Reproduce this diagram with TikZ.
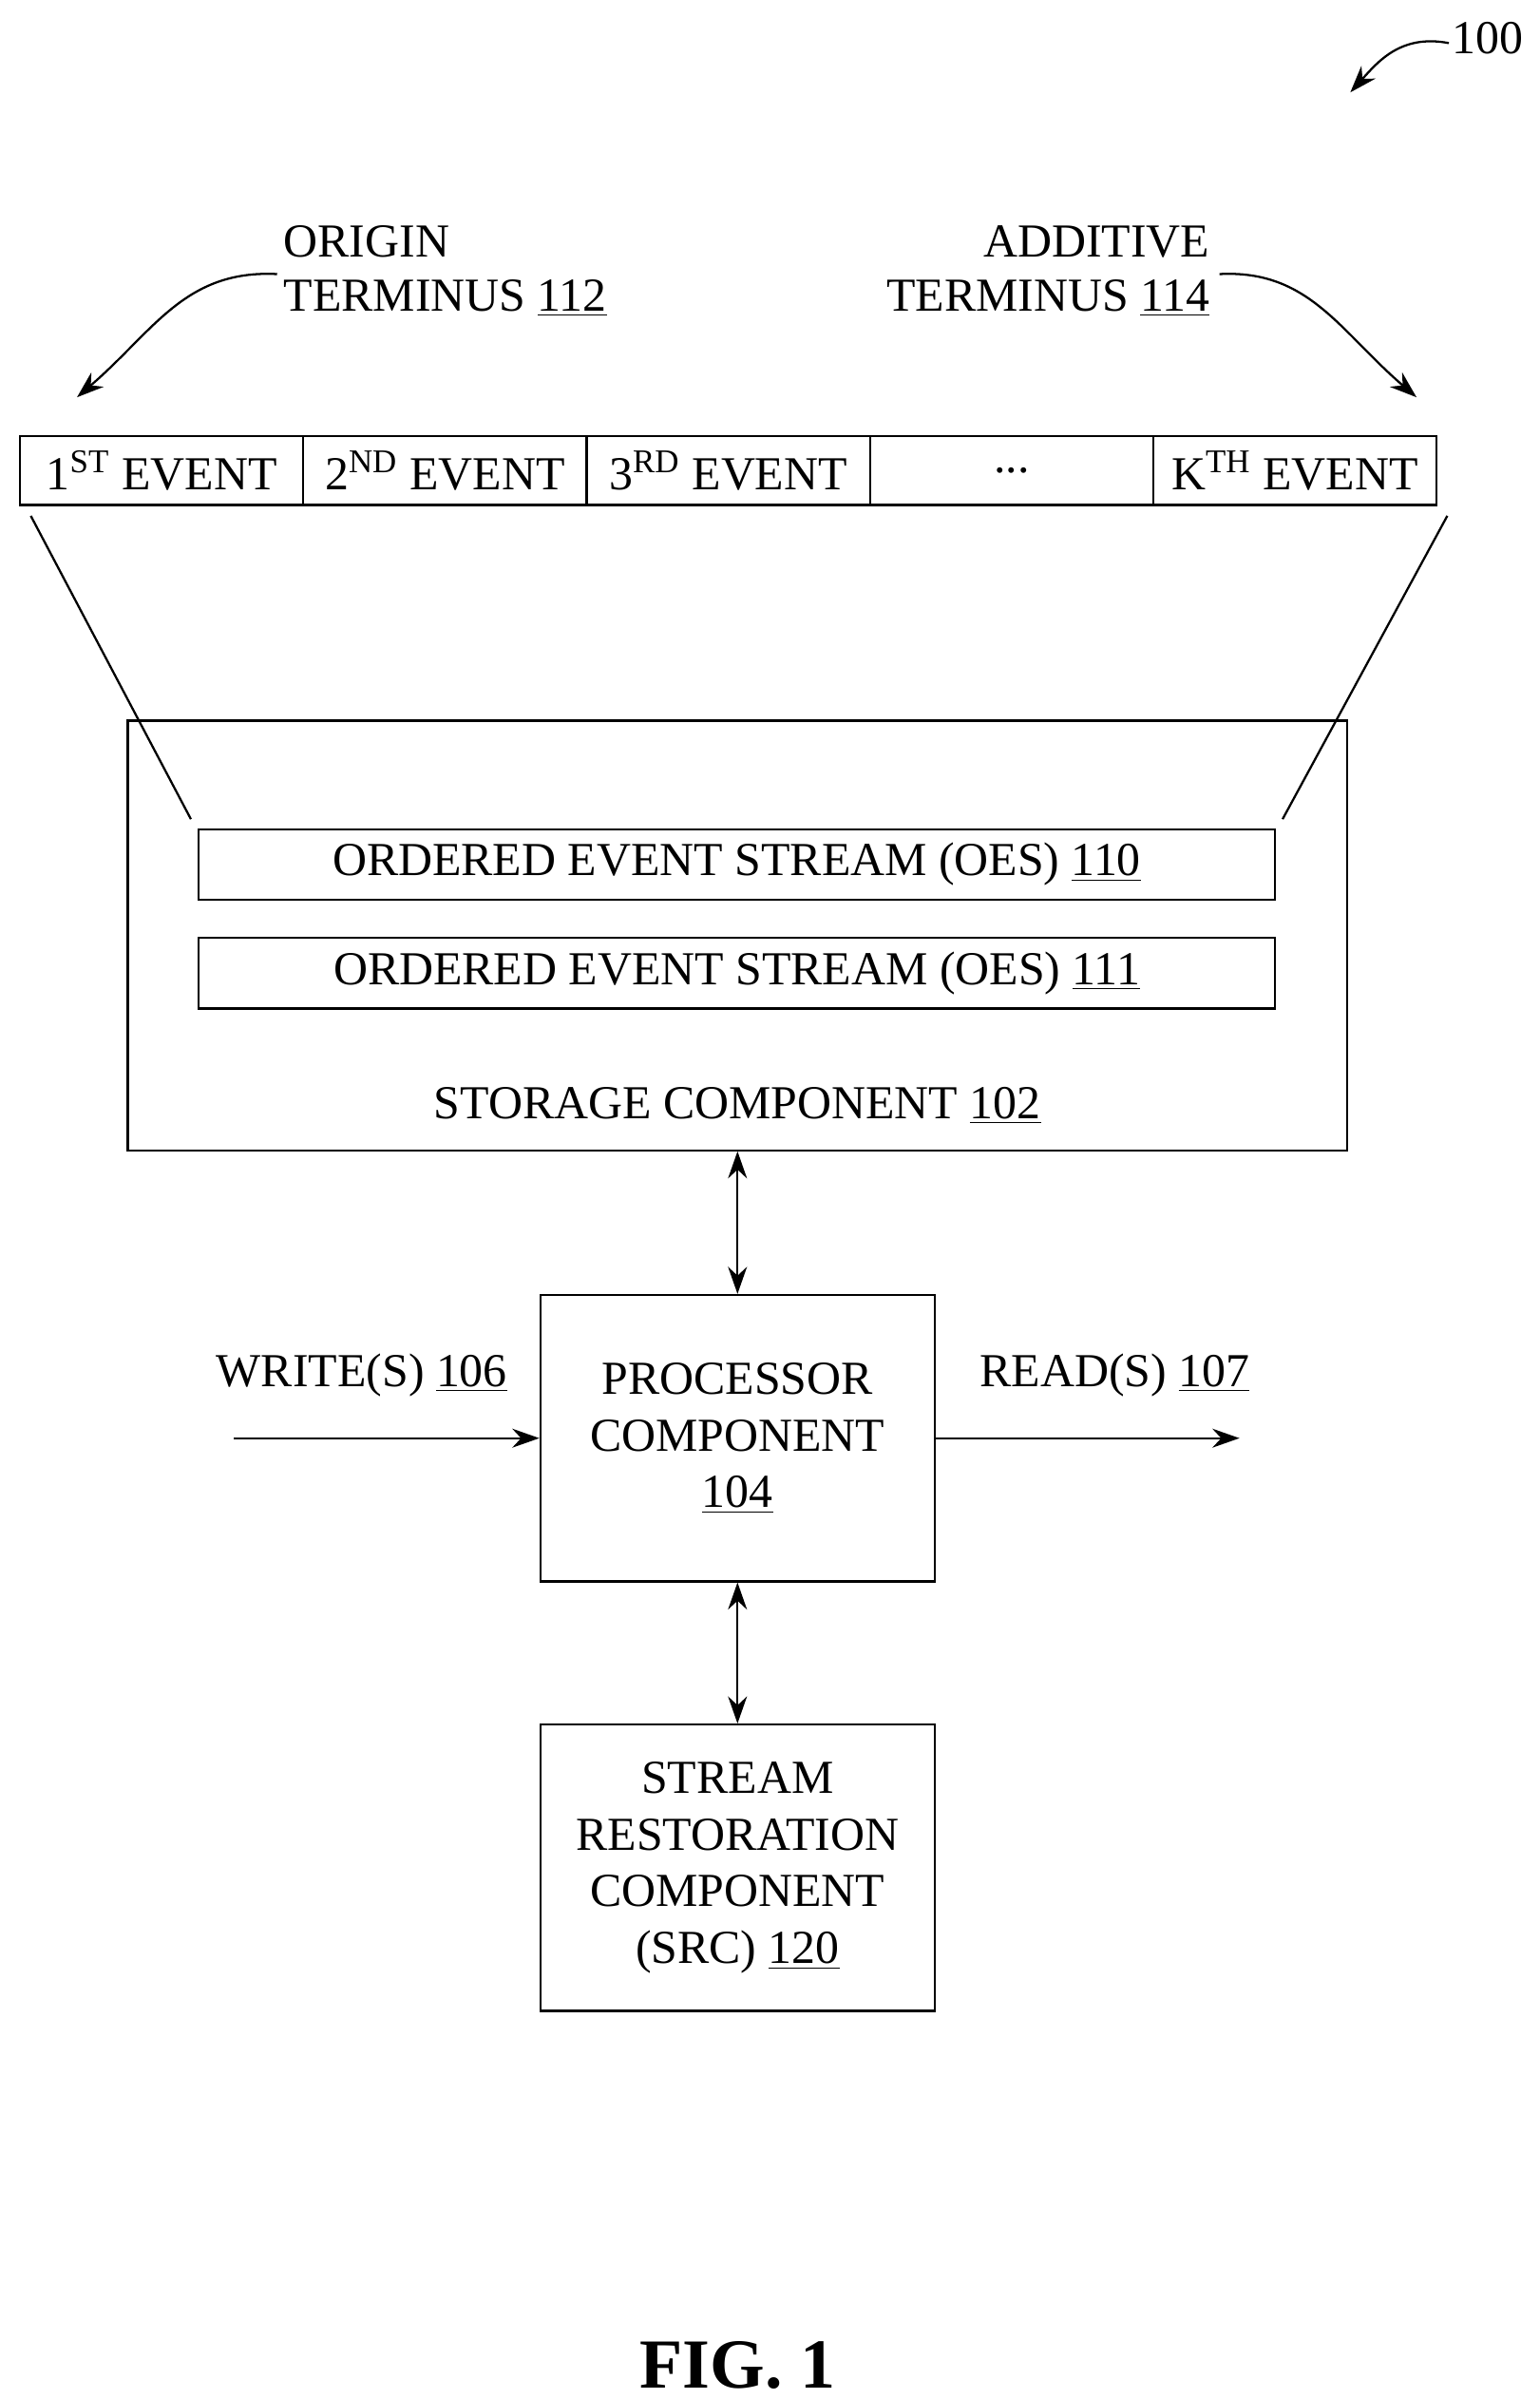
\documentclass[tikz,border=0pt]{standalone}
\usepackage{fontspec}
\setmainfont{Liberation Serif}
\usetikzlibrary{positioning,arrows.meta}
\tikzset{
  lbl/.style={font=\fontsize{17.5}{20}\selectfont, inner sep=0pt},
  box/.style={draw, line width=0.8pt, minimum width=256*0.02cm, minimum height=186*0.02cm, align=center, font=\fontsize{17.5}{21}\selectfont},
  bar/.style={draw, line width=0.8pt, minimum width=699*0.02cm, minimum height=46*0.02cm, font=\fontsize{17.5}{20}\selectfont, inner sep=0pt},
  cell/.style={draw, line width=0.8pt, outer sep=0pt, minimum width=184*0.02cm, minimum height=45*0.02cm, font=\fontsize{17.5}{20}\selectfont, inner sep=0pt, anchor=west},
  conn/.style={line width=0.8pt, -{Stealth[length=10pt,width=7pt]}},
  dconn/.style={line width=0.8pt, {Stealth[length=10pt,width=7pt]}-{Stealth[length=10pt,width=7pt]}}
}
\begin{document}
\begin{tikzpicture}[x=0.02cm,y=-0.02cm]
    \useasboundingbox (0,0) rectangle (1000,1558);
    % event cells
    \node[cell] (e1) at (13,305.5) {1\textsuperscript{ST} EVENT};
    \node[cell,right=0pt of e1] (e2) {2\textsuperscript{ND} EVENT};
    \node[cell,right=0pt of e2] (e3) {3\textsuperscript{RD} EVENT};
    \node[cell,right=0pt of e3] (e4) {...};
    \node[cell,right=0pt of e4] (e5) {K\textsuperscript{TH} EVENT};
    % terminus labels
    \node[lbl,align=left,anchor=west] (orig) at (184,176) {ORIGIN\\TERMINUS \underline{112}};
    \node[lbl,align=right,anchor=east] (addt) at (786,176) {ADDITIVE\\TERMINUS \underline{114}};
    \draw[conn] (orig.west) ++(-4,2) coordinate (o1) .. controls (120,175) and (100,215) .. (50,258);
    \draw[conn] (addt.east) ++(6,2) coordinate (a1) .. controls (850,175) and (870,215) .. (920,258);
    % figure number
    \node[lbl,anchor=west] (num) at (943,25) {100};
    \draw[conn] (num.west) ++(-2,3) coordinate (n1) .. controls (910,22) and (895,40) .. (877,60);
    % storage
    \node[draw,line width=0.8pt,minimum width=792*0.02cm,minimum height=279*0.02cm] (stor) at (479,607.5) {};
    \node[bar] (oes0) at (478.5,561.5) {ORDERED EVENT STREAM (OES) \underline{110}};
    \node[bar] (oes1) at (478.5,632) {ORDERED EVENT STREAM (OES) \underline{111}};
    \node[lbl] (slbl) at (479,718) {STORAGE COMPONENT \underline{102}};
    \draw[line width=0.8pt] (20,335) -- (124,532);
    \draw[line width=0.8pt] (940,335) -- (833,532);
    % processor and src
    \node[box] (proc) at (479,934) {PROCESSOR\\COMPONENT\\\underline{104}};
    \node[box] (src) at (479,1213) {STREAM\\RESTORATION\\COMPONENT\\(SRC) \underline{120}};
    \draw[dconn] (stor.south) -- (proc.north);
    \draw[dconn] (proc.south) -- (src.north);
    \coordinate (win) at (152,934);
    \coordinate (rout) at (805,934);
    \draw[conn] (win) -- (proc.west);
    \draw[conn] (proc.east) -- (rout);
    \node[lbl] (wlbl) at (235,893) {WRITE(S) \underline{106}};
    \node[lbl] (rlbl) at (724,893) {READ(S) \underline{107}};
    \node[font=\fontsize{26}{30}\selectfont\bfseries, inner sep=0pt] (fig) at (479,1536) {FIG. 1};
\end{tikzpicture}
\end{document}
